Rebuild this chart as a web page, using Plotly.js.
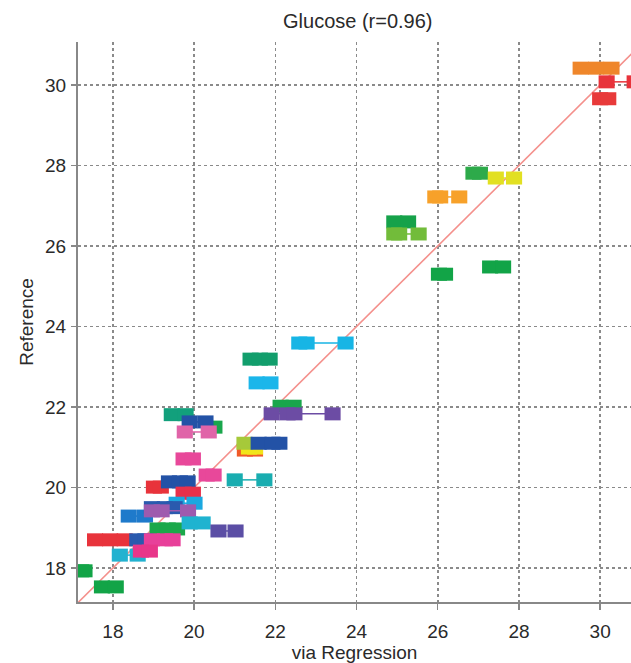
<!DOCTYPE html>
<html>
<head>
<meta charset="utf-8">
<script src="https://cdn.plot.ly/plotly-3.0.1.min.js"></script>
<style>
  html, body { margin: 0; padding: 0; background: #fff; }
  #chart { width: 631px; height: 663px; }
</style>
</head>
<body>
<div id="chart"></div>
<script>
// Reference glucose value of each sample
const referenceValues = [
  30.42, 30.08, 29.66, 27.81, 27.69, 27.22, 26.60, 26.30, 25.30, 25.48,
  23.59, 23.19, 22.60, 22.02, 21.83, 21.81, 21.50, 21.63, 21.38, 20.93,
  20.98, 21.10, 21.10, 20.71, 20.31, 20.19, 20.01, 20.14, 19.86, 19.61,
  19.29, 19.50, 19.42, 18.97, 19.12, 18.92, 18.70, 18.70, 18.70, 18.32,
  18.42, 17.93, 17.53
];

// Replicate predictions (via regression) for each sample
const regressionReplicates = [
  [29.52, 29.90, 30.28], [30.16, 30.85], [30.00, 30.20], [26.88, 27.04], [27.43, 27.88],
  [25.94, 26.06, 26.53], [24.93, 25.27], [24.93, 25.05, 25.53], [26.03, 26.18], [27.29, 27.61],
  [22.59, 22.77, 23.73], [21.39, 21.62, 21.86], [21.54, 21.88], [22.13, 22.45], [21.91, 22.30, 22.47, 23.41],
  [19.45, 19.79], [20.50], [19.89, 20.28], [19.77, 20.36], [21.25, 21.50],
  [21.35, 21.50], [21.24], [21.59, 21.93, 22.10], [19.74, 19.97], [20.31, 20.48],
  [21.00, 21.73], [19.01, 19.18], [19.38, 19.65, 19.84], [19.74, 19.97], [19.57, 20.01],
  [18.39, 18.79], [18.96, 19.28, 19.52], [18.96, 19.20, 19.85], [19.10, 19.35, 19.58], [19.89, 20.21],
  [20.60, 21.02], [17.56, 17.93, 18.29], [18.60, 18.80], [18.96, 19.28, 19.47], [18.17, 18.61],
  [18.69, 18.91], [17.22, 17.30], [17.73, 18.07]
];

const sampleColors = [
  "#EF862A", "#E8333B", "#E83A3A", "#2DAA4A", "#E2E022",
  "#F7A12A", "#16A24A", "#72BC3A", "#12A447", "#12A447",
  "#17B5E5", "#129E6C", "#1BB6EA", "#19A64C", "#6C4CA4",
  "#12A07C", "#19A64C", "#2352A6", "#E064A8", "#F05A28",
  "#F1E51A", "#A6C93A", "#2352A6", "#E8489A", "#E8489A",
  "#19ADB0", "#E8333B", "#2352A6", "#E8304A", "#1BA8E0",
  "#1E7ACB", "#2A5AAE", "#9E5BAE", "#1BA84A", "#1FB3D0",
  "#5B4EA5", "#E8333B", "#2A5AAE", "#E8409A", "#22B2D0",
  "#E8368A", "#12A447", "#12A447"
];

// Line of identity
const identityLine = [17, 31.2];

const traces = [{
  x: identityLine,
  y: identityLine,
  mode: "lines",
  line: { color: "#F4908C", width: 1.6 },
  hoverinfo: "skip",
  showlegend: false
}];

referenceValues.forEach((ref, i) => {
  const xs = regressionReplicates[i];
  traces.push({
    x: xs,
    y: xs.map(() => ref),
    mode: "lines+markers",
    line: { color: sampleColors[i], width: 1.5 },
    marker: {
      symbol: "line-ew",
      size: 11.5,
      color: sampleColors[i],
      line: { color: sampleColors[i], width: 13 }
    },
    showlegend: false
  });
});

const textFont = { family: "Liberation Sans, Arial, sans-serif", size: 19, color: "#2a2a2a" };

const layout = {
  width: 631,
  height: 663,
  margin: { l: 78, r: 0, t: 42, b: 61 },
  paper_bgcolor: "#fff",
  plot_bgcolor: "#fff",
  showlegend: false,
  title: {
    text: "Glucose (r=0.96)",
    font: { family: "Liberation Sans, Arial, sans-serif", size: 20, color: "#2a2a2a" },
    x: 0.567, xanchor: "center",
    y: 0.969, yanchor: "middle"
  },
  xaxis: {
    range: [17.14, 30.76],
    tickvals: [18, 20, 22, 24, 26, 28, 30],
    ticks: "outside", ticklen: 6, tickwidth: 1.5, tickcolor: "#888",
    showline: true, linecolor: "#888", linewidth: 2,
    showgrid: true, gridcolor: "#8a8a8a", gridwidth: 1.6, griddash: "dot",
    zeroline: false,
    tickfont: textFont,
    ticklabelstandoff: 5,
    title: { text: "via Regression", font: textFont, standoff: 2 }
  },
  yaxis: {
    range: [17.155, 31.07],
    tickvals: [18, 20, 22, 24, 26, 28, 30],
    ticks: "outside", ticklen: 5, tickwidth: 1.5, tickcolor: "#888",
    showline: true, linecolor: "#888", linewidth: 2,
    showgrid: true, gridcolor: "#8a8a8a", gridwidth: 1.6, griddash: "dot",
    zeroline: false,
    tickfont: textFont,
    ticklabelstandoff: 1,
    title: { text: "Reference", font: textFont, standoff: 6 }
  }
};

Plotly.newPlot("chart", traces, layout, { staticPlot: true, displayModeBar: false });
</script>
</body>
</html>
